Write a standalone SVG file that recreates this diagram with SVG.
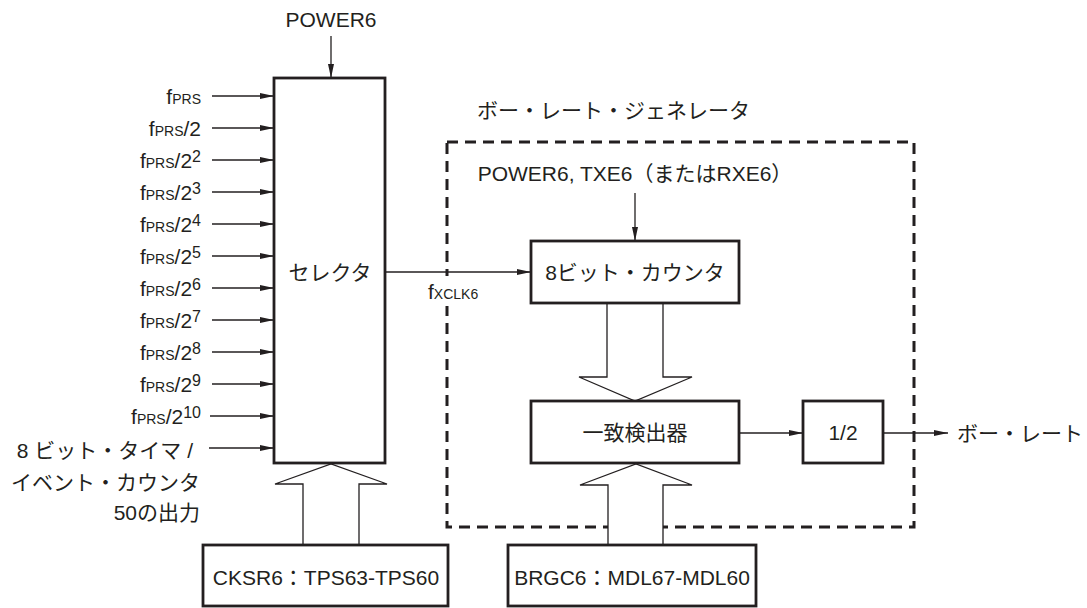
<svg xmlns="http://www.w3.org/2000/svg" width="1087" height="608" viewBox="0 0 1087 608">
<style>
text{font-family:"Liberation Sans","Noto Sans CJK JP",sans-serif;font-size:21px;fill:#231f20}
.s{font-size:14px}
.p{font-size:16px}
.box{fill:#fff;stroke:#231f20;stroke-width:2.8}
.ln{stroke:#231f20;stroke-width:1.3;fill:none}
.hol{fill:#fff;stroke:#231f20;stroke-width:1.3;stroke-linejoin:miter}
.dash{fill:none;stroke:#231f20;stroke-width:3;stroke-dasharray:11 7}
</style>
<defs>
<marker id="ah" markerUnits="userSpaceOnUse" markerWidth="14" markerHeight="6" refX="14" refY="3" orient="auto">
<path d="M0,0 L14,3 L0,6 z" fill="#231f20"/>
</marker>
</defs>
<rect width="1087" height="608" fill="#fff"/>

<g id="generator-frame">
<rect class="dash" x="447" y="142" width="467" height="385"/>
<text x="477" y="118">ボー・レート・ジェネレータ</text>
</g>

<g id="connectors">
<line class="ln" x1="331" y1="36" x2="331" y2="78" marker-end="url(#ah)"/>
<line class="ln" x1="212" y1="96" x2="274" y2="96" marker-end="url(#ah)"/>
<line class="ln" x1="212" y1="128" x2="274" y2="128" marker-end="url(#ah)"/>
<line class="ln" x1="212" y1="160" x2="274" y2="160" marker-end="url(#ah)"/>
<line class="ln" x1="212" y1="192" x2="274" y2="192" marker-end="url(#ah)"/>
<line class="ln" x1="212" y1="224" x2="274" y2="224" marker-end="url(#ah)"/>
<line class="ln" x1="212" y1="256" x2="274" y2="256" marker-end="url(#ah)"/>
<line class="ln" x1="212" y1="288" x2="274" y2="288" marker-end="url(#ah)"/>
<line class="ln" x1="212" y1="320" x2="274" y2="320" marker-end="url(#ah)"/>
<line class="ln" x1="212" y1="352" x2="274" y2="352" marker-end="url(#ah)"/>
<line class="ln" x1="212" y1="384" x2="274" y2="384" marker-end="url(#ah)"/>
<line class="ln" x1="210" y1="416" x2="274" y2="416" marker-end="url(#ah)"/>
<line class="ln" x1="209" y1="448" x2="274" y2="448" marker-end="url(#ah)"/>
<line class="ln" x1="385" y1="272" x2="531" y2="272" marker-end="url(#ah)"/>
<line class="ln" x1="635" y1="193" x2="635" y2="241" marker-end="url(#ah)"/>
<line class="ln" x1="739" y1="433" x2="803" y2="433" marker-end="url(#ah)"/>
<line class="ln" x1="883" y1="433" x2="948" y2="433" marker-end="url(#ah)"/>
<polygon class="hol" points="303,545 303,484 275,484 331,464 387,484 359,484 359,545"/>
<polygon class="hol" points="607,303 607,377 579,377 635,401 692,377 663,377 663,303"/>
<polygon class="hol" points="608,545 608,485 580,485 636,464 692,485 663,485 663,545"/>
</g>

<g id="labels">
<text x="331" y="27" text-anchor="middle">POWER6</text>
<text x="201" y="104" text-anchor="end">f<tspan class="s">PRS</tspan></text>
<text x="201" y="136" text-anchor="end">f<tspan class="s">PRS</tspan>/2</text>
<text x="201" y="168" text-anchor="end">f<tspan class="s">PRS</tspan>/2<tspan class="p" dy="-6">2</tspan></text>
<text x="201" y="200" text-anchor="end">f<tspan class="s">PRS</tspan>/2<tspan class="p" dy="-6">3</tspan></text>
<text x="201" y="232" text-anchor="end">f<tspan class="s">PRS</tspan>/2<tspan class="p" dy="-6">4</tspan></text>
<text x="201" y="264" text-anchor="end">f<tspan class="s">PRS</tspan>/2<tspan class="p" dy="-6">5</tspan></text>
<text x="201" y="296" text-anchor="end">f<tspan class="s">PRS</tspan>/2<tspan class="p" dy="-6">6</tspan></text>
<text x="201" y="328" text-anchor="end">f<tspan class="s">PRS</tspan>/2<tspan class="p" dy="-6">7</tspan></text>
<text x="201" y="360" text-anchor="end">f<tspan class="s">PRS</tspan>/2<tspan class="p" dy="-6">8</tspan></text>
<text x="201" y="392" text-anchor="end">f<tspan class="s">PRS</tspan>/2<tspan class="p" dy="-6">9</tspan></text>
<text x="201" y="424" text-anchor="end">f<tspan class="s">PRS</tspan>/2<tspan class="p" dy="-6">10</tspan></text>
<text x="193" y="458" text-anchor="end">8 ビット・タイマ /</text>
<text x="200" y="490" text-anchor="end">イベント・カウンタ</text>
<text x="200" y="520" text-anchor="end">50の出力</text>
<rect x="440" y="276" width="14" height="30" fill="#fff"/>
<text x="428" y="299">f<tspan class="s">XCLK6</tspan></text>
<text x="635" y="181" text-anchor="middle">POWER6, TXE6（またはRXE6）</text>
<text x="957" y="441">ボー・レート</text>
</g>

<g id="selector">
<rect class="box" x="274" y="78" width="111" height="385"/>
<text x="330" y="280" text-anchor="middle">セレクタ</text>
</g>

<g id="counter">
<rect class="box" x="531" y="241" width="208" height="62"/>
<text x="635" y="280" text-anchor="middle">8ビット・カウンタ</text>
</g>

<g id="comparator">
<rect class="box" x="531" y="401" width="208" height="62"/>
<text x="635" y="440" text-anchor="middle">一致検出器</text>
</g>

<g id="divider">
<rect class="box" x="803" y="401" width="80" height="62"/>
<text x="843" y="440" text-anchor="middle">1/2</text>
</g>

<g id="cksr6">
<rect class="box" x="203" y="545" width="245" height="61"/>
<text x="326" y="585" text-anchor="middle">CKSR6：TPS63-TPS60</text>
</g>

<g id="brgc6">
<rect class="box" x="508" y="545" width="248" height="61"/>
<text x="632" y="585" text-anchor="middle">BRGC6：MDL67-MDL60</text>
</g>
</svg>
